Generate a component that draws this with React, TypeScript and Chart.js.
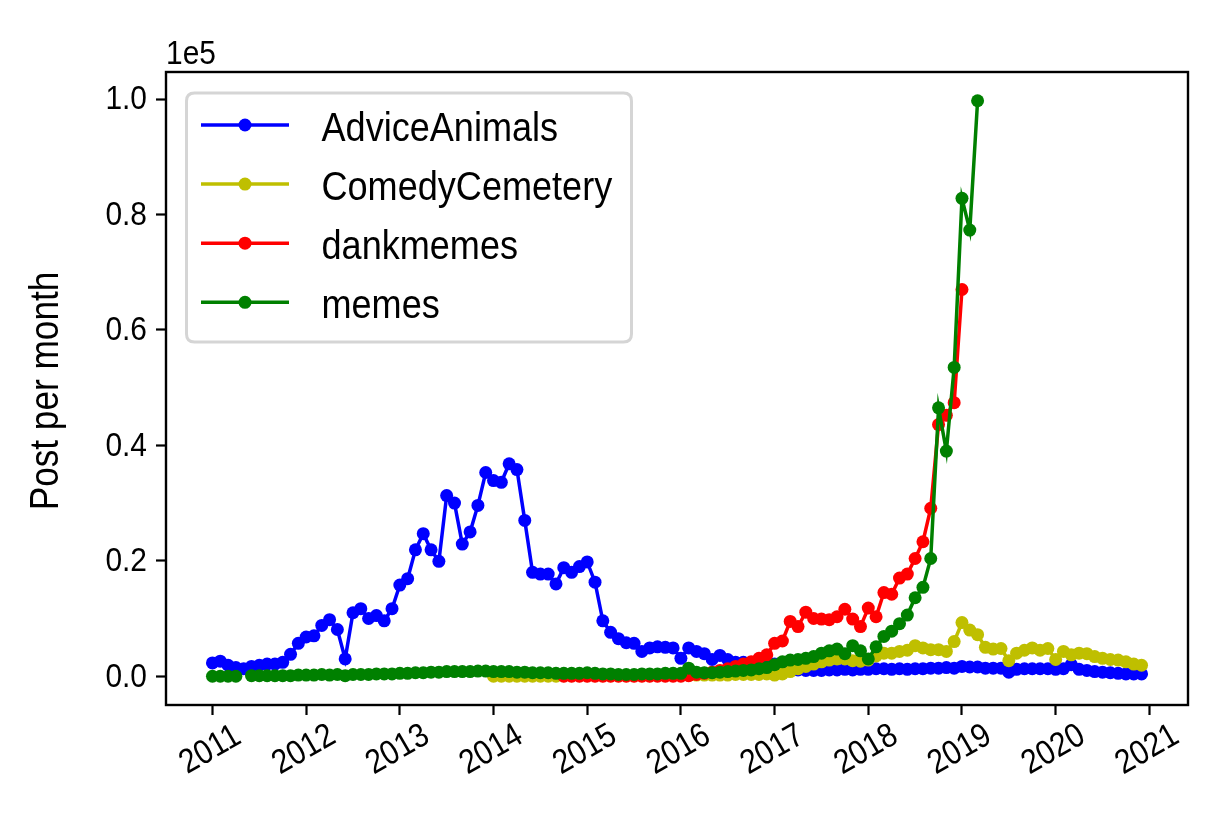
import React, { useEffect, useRef } from "react";
import { Chart, registerables } from "chart.js";

Chart.register(...registerables);

// Monthly series: Jan 2011 .. Dec 2020 (120 months)
const startYear = 2011;
const monthCount = 120;
const yearTicks = [2011, 2012, 2013, 2014, 2015, 2016, 2017, 2018, 2019, 2020, 2021];
const yTicks = [0, 20000, 40000, 60000, 80000, 100000];
const seriesNames = ["AdviceAnimals", "ComedyCemetery", "dankmemes", "memes"];
const seriesColors = ["#0000ff", "#bfbf00", "#ff0000", "#008000"];

const adviceAnimals: (number | null)[] = [
  2300, 2600, 1900, 1500, 1300, 1700, 1900, 2100, 2100, 2400, 3800, 5700,
  6800, 7000, 8800, 9800, 8100, 3000, 11000, 11700, 10000, 10500, 9600, 11700,
  15800, 16900, 21900, 24700, 21900, 19900, 31300, 30000, 22900, 25000, 29600, 35300,
  33900, 33600, 36800, 35800, 27000, 18000, 17700, 17700, 16000, 18800, 18000, 19000,
  19800, 16300, 9600, 7600, 6500, 5800, 5700, 4300, 4900, 5100, 5000, 4900,
  3100, 4900, 4300, 3900, 2900, 3600, 2900, 2400, 2400, 2300, 2200, 2500,
  2100, 1700, 1400, 1100, 1000, 1000, 1000, 1100, 1100, 1200, 1100, 1200,
  1200, 1300, 1300, 1200, 1300, 1200, 1300, 1300, 1400, 1400, 1500, 1400,
  1700, 1600, 1600, 1400, 1400, 1400, 700, 1200, 1300, 1300, 1300, 1300,
  1200, 1300, 2000, 1200, 1000, 800, 700, 600, 500, 400, 400, 400,
];

const comedyCemetery: (number | null)[] = [
  null, null, null, null, null, null, null, null, null, null, null, null,
  null, null, null, null, null, null, null, null, null, null, null, null,
  null, null, null, null, null, null, null, null, null, null, null, null,
  0, 0, 0, 0, 0, 0, 0, 0, 0, 100, 100, 100,
  100, 100, 100, 100, 100, 100, 100, 100, 100, 200, 200, 200,
  200, 200, 200, 200, 200, 200, 200, 300, 300, 300, 300, 400,
  200, 400, 800, 1300, 1700, 2100, 2500, 2800, 3000, 3000, 2700, 2600,
  2800, 3500, 4000, 4000, 4300, 4500, 5300, 4900, 4600, 4600, 4300, 6000,
  9300, 8000, 7200, 5000, 4700, 4800, 2700, 4000, 4500, 4900, 4500, 4800,
  2900, 4300, 3700, 4000, 3900, 3400, 3100, 2900, 2800, 2500, 2100, 1900,
];

const dankmemes: (number | null)[] = [
  null, null, null, null, null, null, null, null, null, null, null, null,
  null, null, null, null, null, null, null, null, null, null, null, null,
  null, null, null, null, null, null, null, null, null, null, null, null,
  null, null, null, null, null, null, null, null, null, 0, 0, 0,
  0, 0, 0, 0, 0, 0, 0, 0, 0, 0, 0, 0,
  0, 100, 300, 500, 700, 1000, 1300, 1700, 2100, 2500, 3100, 3700,
  5700, 6100, 9500, 8600, 11100, 10000, 9900, 9800, 10300, 11600, 9900, 8600,
  11800, 10300, 14500, 14200, 17000, 17700, 20400, 23300, 29100, 43600, 45200, 47400,
  67000, null, null, null, null, null, null, null, null, null, null, null,
  null, null, null, null, null, null, null, null, null, null, null, null,
];

const memes: (number | null)[] = [
  0, 0, 0, 0, null, 100, 100, 100, 100, 100, 100, 200,
  200, 200, 300, 200, 300, 100, 300, 300, 300, 400, 400, 400,
  500, 500, 600, 600, 700, 700, 800, 800, 800, 800, 900, 900,
  800, 800, 800, 700, 700, 600, 600, 600, 500, 500, 500, 500,
  600, 500, 400, 400, 300, 300, 300, 400, 400, 400, 500, 500,
  500, 1400, 700, 600, 600, 700, 800, 900, 1000, 1100, 1300, 1500,
  2000, 2500, 2800, 2900, 3100, 3400, 4000, 4400, 4700, 3900, 5300, 4400,
  3000, 5100, 6900, 7800, 9100, 10600, 13600, 15400, 20400, 46500, 39000, 53500,
  82800, 77300, 99700, null, null, null, null, null, null, null, null, null,
  null, null, null, null, null, null, null, null, null, null, null, null,
];

const allSeries = [adviceAnimals, comedyCemetery, dankmemes, memes];

// month positions in fractional years (Jan 2011 = 2011.0)
const monthX: number[] = Array.from({ length: monthCount }, (_, i) => startYear + i / 12);

const FONT = "'Liberation Sans', Arial, 'Helvetica', sans-serif";
const SQUEEZE = 0.88; // condensed look of the reference typeface

// Plot geometry (canvas pixels)
const CANVAS_W = 1225;
const CANVAS_H = 840;
const AREA_LEFT = 166;
const AREA_RIGHT = 1188;
const AREA_TOP = 72;
const AREA_BOTTOM = 705;

const xFirst = monthX[0];
const xLast = monthX[monthCount - 1];
const xMargin = (xLast - xFirst) * 0.05;
const yDataMax = 99700;
const yMargin = yDataMax * 0.05;

function drawText(
  ctx: CanvasRenderingContext2D,
  text: string,
  x: number,
  y: number,
  size: number,
  align: CanvasTextAlign,
  baseline: CanvasTextBaseline,
  rotation = 0
) {
  ctx.save();
  ctx.translate(x, y);
  if (rotation) ctx.rotate(rotation);
  ctx.scale(SQUEEZE, 1);
  ctx.font = `${size}px ${FONT}`;
  ctx.textAlign = align;
  ctx.textBaseline = baseline;
  ctx.fillStyle = "#000";
  ctx.fillText(text, 0, 0);
  ctx.restore();
}

const overlayPlugin = {
  id: "overlay",
  afterDraw(chart: any) {
    const ctx = chart.ctx as CanvasRenderingContext2D;
    const area = chart.chartArea;
    ctx.save();
    // frame
    ctx.strokeStyle = "#000";
    ctx.lineWidth = 2.4;
    ctx.strokeRect(area.left, area.top, area.right - area.left, area.bottom - area.top);

    // x tick labels, rotated 30deg, centered on tick
    const xs = chart.scales.x;
    yearTicks.forEach((yr) => {
      const px = xs.getPixelForValue(yr);
      drawText(ctx, String(yr), px - 2, 750, 34, "center", "middle", -Math.PI / 6);
    });

    // y tick labels
    const ys = chart.scales.y;
    yTicks.forEach((v) => {
      const py = ys.getPixelForValue(v);
      drawText(ctx, (v / 1e5).toFixed(1), 147, py + 1, 34, "right", "middle");
    });

    // offset text
    drawText(ctx, "1e5", 166, 64, 34, "left", "alphabetic");

    // y axis title
    drawText(ctx, "Post per month", 47, 391, 40, "center", "middle", -Math.PI / 2);

    // legend
    const bx = 186.5, by = 93, bw = 445, bh = 249, r = 8;
    ctx.beginPath();
    ctx.moveTo(bx + r, by);
    ctx.lineTo(bx + bw - r, by);
    ctx.quadraticCurveTo(bx + bw, by, bx + bw, by + r);
    ctx.lineTo(bx + bw, by + bh - r);
    ctx.quadraticCurveTo(bx + bw, by + bh, bx + bw - r, by + bh);
    ctx.lineTo(bx + r, by + bh);
    ctx.quadraticCurveTo(bx, by + bh, bx, by + bh - r);
    ctx.lineTo(bx, by + r);
    ctx.quadraticCurveTo(bx, by, bx + r, by);
    ctx.closePath();
    ctx.fillStyle = "rgba(255,255,255,0.8)";
    ctx.fill();
    ctx.strokeStyle = "#d5d5d5";
    ctx.lineWidth = 3;
    ctx.stroke();

    seriesNames.forEach((name, i) => {
      const cy = 125 + i * 59.1;
      ctx.strokeStyle = seriesColors[i];
      ctx.lineWidth = 3.5;
      ctx.beginPath();
      ctx.moveTo(201, cy);
      ctx.lineTo(289, cy);
      ctx.stroke();
      ctx.fillStyle = seriesColors[i];
      ctx.beginPath();
      ctx.arc(245, cy, 6.5, 0, Math.PI * 2);
      ctx.fill();
      drawText(ctx, name, 321.5, cy + 16, 41, "left", "alphabetic");
    });
    ctx.restore();
  },
};

export default function App() {
  const canvasRef = useRef<HTMLCanvasElement | null>(null);

  useEffect(() => {
    const canvas = canvasRef.current;
    if (!canvas) return;
    const datasets = allSeries.map((arr, si) => ({
      label: seriesNames[si],
      data: arr.map((v, i) => ({ x: monthX[i], y: v })),
      borderColor: seriesColors[si],
      backgroundColor: seriesColors[si],
      pointBackgroundColor: seriesColors[si],
      borderWidth: 3.5,
      pointRadius: 6.5,
      pointBorderWidth: 0,
      pointHoverRadius: 6.5,
      tension: 0,
      spanGaps: false,
      order: allSeries.length - si,
    }));

    const chart = new Chart(canvas, {
      type: "line",
      data: { datasets } as any,
      options: {
        animation: false,
        responsive: false,
        maintainAspectRatio: false,
        devicePixelRatio: 1,
        layout: {
          padding: { top: AREA_TOP, right: CANVAS_W - AREA_RIGHT, left: 0, bottom: 0 },
        },
        plugins: {
          legend: { display: false },
          tooltip: { enabled: false },
        },
        scales: {
          x: {
            type: "linear",
            min: xFirst - xMargin,
            max: xLast + xMargin,
            afterFit: (s: any) => {
              s.height = CANVAS_H - AREA_BOTTOM;
            },
            afterBuildTicks: (s: any) => {
              s.ticks = yearTicks.map((v) => ({ value: v }));
            },
            ticks: { display: false },
            grid: {
              drawOnChartArea: false,
              drawTicks: true,
              tickLength: 10,
              tickWidth: 2.2,
              tickColor: "#000",
              color: "#000",
            },
            border: { display: false },
          },
          y: {
            type: "linear",
            min: -yMargin,
            max: yDataMax + yMargin,
            afterFit: (s: any) => {
              s.width = AREA_LEFT;
            },
            afterBuildTicks: (s: any) => {
              s.ticks = yTicks.map((v) => ({ value: v }));
            },
            ticks: { display: false },
            grid: {
              drawOnChartArea: false,
              drawTicks: true,
              tickLength: 10,
              tickWidth: 2.2,
              tickColor: "#000",
              color: "#000",
            },
            border: { display: false },
          },
        },
      } as any,
      plugins: [overlayPlugin],
    });
    return () => chart.destroy();
  }, []);

  return (
    <div style={{ position: "fixed", left: 0, top: 0, width: CANVAS_W, height: CANVAS_H, background: "#fff" }}>
      <canvas ref={canvasRef} width={CANVAS_W} height={CANVAS_H} style={{ width: CANVAS_W, height: CANVAS_H }} />
    </div>
  );
}
